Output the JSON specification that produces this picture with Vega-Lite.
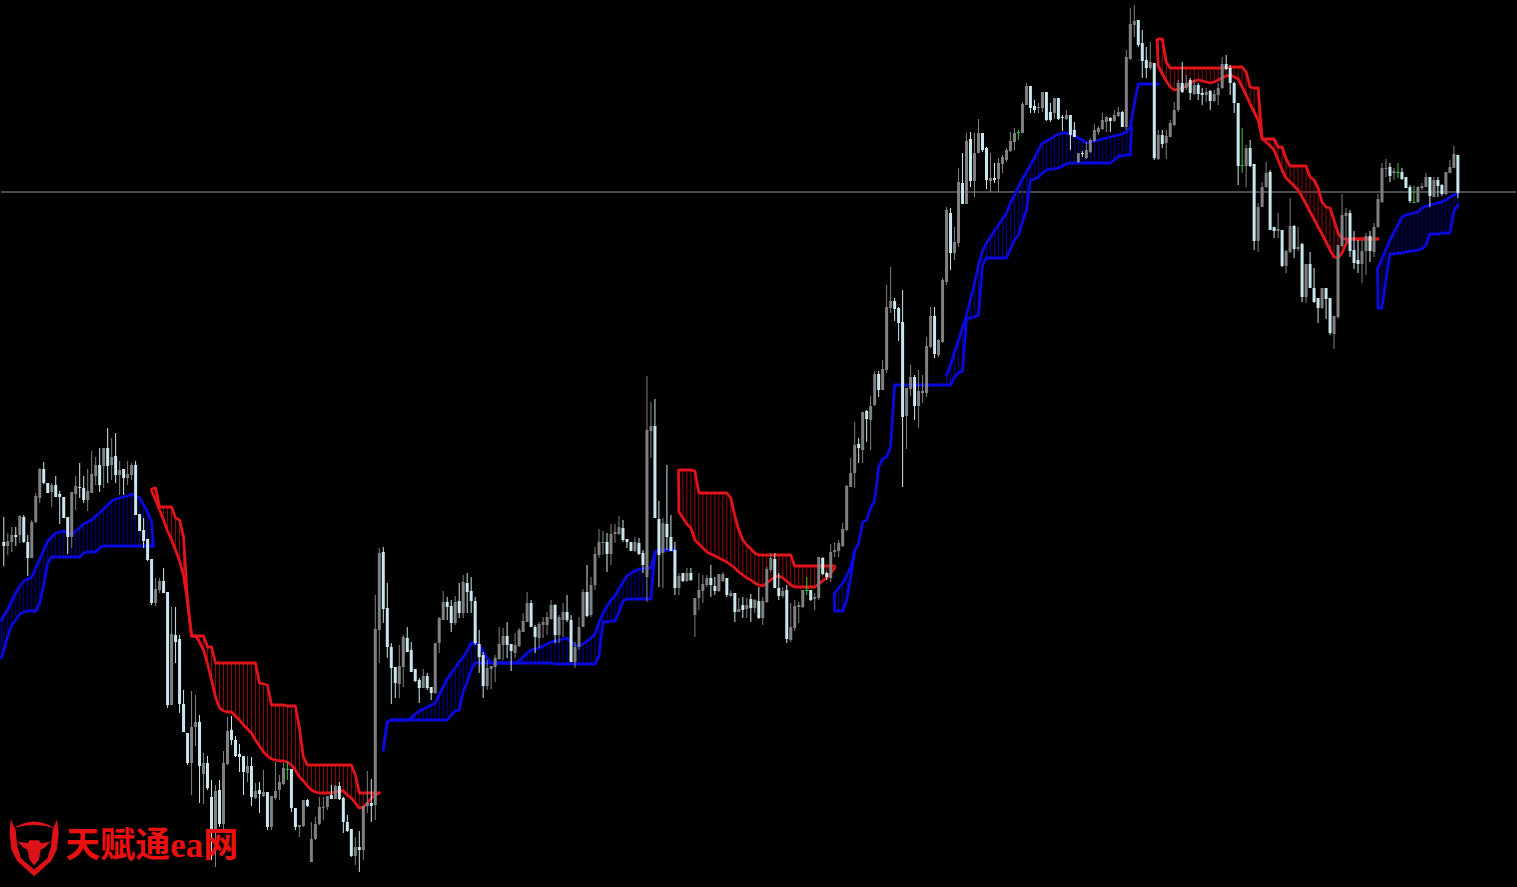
{"$schema":"https://vega.github.io/schema/vega-lite/v6.json","width":1517,"height":887,"padding":0,"autosize":{"type":"fit","contains":"padding"},"background":"#000000","view":{"stroke":null},
"datasets":{
"cloud":[
{"i":-0.575,"a":620,"b":658,"s":1,"c":"bull"},{"i":0,"a":616,"b":650,"s":1,"c":"bull"},{"i":1,"a":609,"b":636,"s":1,"c":"bull"},{"i":2,"a":601,"b":625,"s":1,"c":"bull"},{"i":3,"a":593,"b":620,"s":1,"c":"bull"},{"i":4,"a":586,"b":614,"s":1,"c":"bull"},{"i":5,"a":581,"b":612,"s":1,"c":"bull"},{"i":6,"a":579,"b":611,"s":1,"c":"bull"},{"i":7,"a":577,"b":611,"s":1,"c":"bull"},{"i":8,"a":568,"b":611,"s":1,"c":"bull"},{"i":9,"a":559,"b":603,"s":1,"c":"bull"},{"i":10,"a":550,"b":585,"s":1,"c":"bull"},{"i":11,"a":541,"b":563,"s":1,"c":"bull"},{"i":12,"a":537,"b":557,"s":1,"c":"bull"},{"i":13,"a":533,"b":557,"s":1,"c":"bull"},{"i":14,"a":532,"b":557,"s":1,"c":"bull"},{"i":15,"a":531,"b":557,"s":1,"c":"bull"},{"i":16,"a":533,"b":557,"s":1,"c":"bull"},{"i":17,"a":535,"b":557,"s":1,"c":"bull"},{"i":18,"a":531,"b":557,"s":1,"c":"bull"},{"i":19,"a":528,"b":557,"s":1,"c":"bull"},{"i":20,"a":524,"b":553,"s":1,"c":"bull"},{"i":21,"a":522,"b":552,"s":1,"c":"bull"},{"i":22,"a":520,"b":552,"s":1,"c":"bull"},{"i":23,"a":516,"b":552,"s":1,"c":"bull"},{"i":24,"a":513,"b":548,"s":1,"c":"bull"},{"i":25,"a":509,"b":546,"s":1,"c":"bull"},{"i":26,"a":505,"b":546,"s":1,"c":"bull"},{"i":27,"a":501,"b":546,"s":1,"c":"bull"},{"i":28,"a":499,"b":546,"s":1,"c":"bull"},{"i":29,"a":498,"b":546,"s":1,"c":"bull"},{"i":30,"a":497,"b":546,"s":1,"c":"bull"},{"i":31,"a":496,"b":546,"s":1,"c":"bull"},{"i":32,"a":494,"b":546,"s":1,"c":"bull"},{"i":33,"a":496,"b":546,"s":1,"c":"bull"},{"i":34,"a":498,"b":546,"s":1,"c":"bull"},{"i":35,"a":505,"b":546,"s":1,"c":"bull"},{"i":36,"a":512,"b":546,"s":1,"c":"bull"},{"i":37,"a":522,"b":546,"s":1,"c":"bull"},{"i":37.5,"a":546,"b":546,"s":1,"c":"bull"},
{"i":37,"a":489,"b":491,"s":2,"c":"bear"},{"i":38,"a":488,"b":500,"s":2,"c":"bear"},{"i":39,"a":507,"b":510,"s":2,"c":"bear"},{"i":40,"a":507,"b":520,"s":2,"c":"bear"},{"i":41,"a":507,"b":531,"s":2,"c":"bear"},{"i":42,"a":507,"b":540,"s":2,"c":"bear"},{"i":43,"a":518,"b":550,"s":2,"c":"bear"},{"i":44,"a":520,"b":561,"s":2,"c":"bear"},{"i":45,"a":537,"b":576,"s":2,"c":"bear"},{"i":46,"a":602,"b":602,"s":2,"c":"bear"},{"i":47,"a":636,"b":636,"s":2,"c":"bear"},{"i":48,"a":636,"b":636,"s":2,"c":"bear"},{"i":49,"a":636,"b":642,"s":2,"c":"bear"},{"i":50,"a":636,"b":650,"s":2,"c":"bear"},{"i":51,"a":647,"b":664,"s":2,"c":"bear"},{"i":52,"a":647,"b":680,"s":2,"c":"bear"},{"i":53,"a":663,"b":697,"s":2,"c":"bear"},{"i":54,"a":663,"b":708,"s":2,"c":"bear"},{"i":55,"a":663,"b":711,"s":2,"c":"bear"},{"i":56,"a":663,"b":712,"s":2,"c":"bear"},{"i":57,"a":663,"b":712,"s":2,"c":"bear"},{"i":58,"a":663,"b":716,"s":2,"c":"bear"},{"i":59,"a":663,"b":720,"s":2,"c":"bear"},{"i":60,"a":663,"b":725,"s":2,"c":"bear"},{"i":61,"a":663,"b":729,"s":2,"c":"bear"},{"i":62,"a":663,"b":733,"s":2,"c":"bear"},{"i":63,"a":663,"b":740,"s":2,"c":"bear"},{"i":64,"a":683,"b":746,"s":2,"c":"bear"},{"i":65,"a":684,"b":752,"s":2,"c":"bear"},{"i":66,"a":685,"b":756,"s":2,"c":"bear"},{"i":67,"a":705,"b":759,"s":2,"c":"bear"},{"i":68,"a":705,"b":760,"s":2,"c":"bear"},{"i":69,"a":705,"b":761,"s":2,"c":"bear"},{"i":70,"a":705,"b":761,"s":2,"c":"bear"},{"i":71,"a":706,"b":762,"s":2,"c":"bear"},{"i":72,"a":706,"b":765,"s":2,"c":"bear"},{"i":73,"a":706,"b":770,"s":2,"c":"bear"},{"i":74,"a":728,"b":777,"s":2,"c":"bear"},{"i":75,"a":757,"b":781,"s":2,"c":"bear"},{"i":76,"a":765,"b":786,"s":2,"c":"bear"},{"i":77,"a":765,"b":790,"s":2,"c":"bear"},{"i":78,"a":765,"b":792,"s":2,"c":"bear"},{"i":79,"a":765,"b":793,"s":2,"c":"bear"},{"i":80,"a":765,"b":793,"s":2,"c":"bear"},{"i":81,"a":765,"b":793,"s":2,"c":"bear"},{"i":82,"a":765,"b":793,"s":2,"c":"bear"},{"i":83,"a":765,"b":792,"s":2,"c":"bear"},{"i":84,"a":765,"b":791,"s":2,"c":"bear"},{"i":85,"a":765,"b":791,"s":2,"c":"bear"},{"i":86,"a":765,"b":795,"s":2,"c":"bear"},{"i":87,"a":765,"b":798,"s":2,"c":"bear"},{"i":88,"a":775,"b":803,"s":2,"c":"bear"},{"i":89,"a":793,"b":808,"s":2,"c":"bear"},{"i":90,"a":793,"b":807,"s":2,"c":"bear"},{"i":91,"a":793,"b":803,"s":2,"c":"bear"},{"i":92,"a":793,"b":798,"s":2,"c":"bear"},{"i":93,"a":793,"b":795,"s":2,"c":"bear"},{"i":94,"a":793,"b":793,"s":2,"c":"bear"},
{"i":95,"a":750,"b":750,"s":3,"c":"bull"},{"i":96,"a":722,"b":722,"s":3,"c":"bull"},{"i":97,"a":720,"b":720,"s":3,"c":"bull"},{"i":98,"a":720,"b":720,"s":3,"c":"bull"},{"i":99,"a":720,"b":720,"s":3,"c":"bull"},{"i":100,"a":720,"b":720,"s":3,"c":"bull"},{"i":101,"a":720,"b":720,"s":3,"c":"bull"},{"i":102,"a":718,"b":720,"s":3,"c":"bull"},{"i":103,"a":714,"b":720,"s":3,"c":"bull"},{"i":104,"a":711,"b":720,"s":3,"c":"bull"},{"i":105,"a":709,"b":720,"s":3,"c":"bull"},{"i":106,"a":707,"b":720,"s":3,"c":"bull"},{"i":107,"a":705,"b":720,"s":3,"c":"bull"},{"i":108,"a":703,"b":720,"s":3,"c":"bull"},{"i":109,"a":695,"b":720,"s":3,"c":"bull"},{"i":110,"a":687,"b":720,"s":3,"c":"bull"},{"i":111,"a":679,"b":720,"s":3,"c":"bull"},{"i":112,"a":673,"b":715,"s":3,"c":"bull"},{"i":113,"a":668,"b":711,"s":3,"c":"bull"},{"i":114,"a":662,"b":710,"s":3,"c":"bull"},{"i":115,"a":657,"b":692,"s":3,"c":"bull"},{"i":116,"a":651,"b":682,"s":3,"c":"bull"},{"i":117,"a":643,"b":670,"s":3,"c":"bull"},{"i":118,"a":643,"b":663,"s":3,"c":"bull"},{"i":119,"a":645,"b":663,"s":3,"c":"bull"},{"i":120,"a":652,"b":663,"s":3,"c":"bull"},{"i":121,"a":658,"b":663,"s":3,"c":"bull"},{"i":122,"a":663,"b":663,"s":3,"c":"bull"},{"i":123,"a":663,"b":663,"s":3,"c":"bull"},{"i":124,"a":663,"b":663,"s":3,"c":"bull"},{"i":125,"a":663,"b":663,"s":3,"c":"bull"},{"i":126,"a":663,"b":663,"s":3,"c":"bull"},{"i":127,"a":663,"b":663,"s":3,"c":"bull"},{"i":128,"a":663,"b":663,"s":3,"c":"bull"},{"i":129,"a":661,"b":663,"s":3,"c":"bull"},{"i":130,"a":657,"b":663,"s":3,"c":"bull"},{"i":131,"a":653,"b":663,"s":3,"c":"bull"},{"i":132,"a":650,"b":663,"s":3,"c":"bull"},{"i":133,"a":649,"b":663,"s":3,"c":"bull"},{"i":134,"a":648,"b":663,"s":3,"c":"bull"},{"i":135,"a":646,"b":663,"s":3,"c":"bull"},{"i":136,"a":644,"b":663,"s":3,"c":"bull"},{"i":137,"a":642,"b":663,"s":3,"c":"bull"},{"i":138,"a":641,"b":664,"s":3,"c":"bull"},{"i":139,"a":640,"b":664,"s":3,"c":"bull"},{"i":140,"a":639,"b":664,"s":3,"c":"bull"},{"i":141,"a":638,"b":664,"s":3,"c":"bull"},{"i":142,"a":642,"b":664,"s":3,"c":"bull"},{"i":143,"a":645,"b":664,"s":3,"c":"bull"},{"i":144,"a":646,"b":664,"s":3,"c":"bull"},{"i":145,"a":644,"b":664,"s":3,"c":"bull"},{"i":146,"a":641,"b":664,"s":3,"c":"bull"},{"i":147,"a":638,"b":664,"s":3,"c":"bull"},{"i":148,"a":634,"b":664,"s":3,"c":"bull"},{"i":149,"a":622,"b":656,"s":3,"c":"bull"},{"i":150,"a":613,"b":622,"s":3,"c":"bull"},{"i":151,"a":606,"b":622,"s":3,"c":"bull"},{"i":152,"a":600,"b":621,"s":3,"c":"bull"},{"i":153,"a":596,"b":621,"s":3,"c":"bull"},{"i":154,"a":589,"b":612,"s":3,"c":"bull"},{"i":155,"a":582,"b":601,"s":3,"c":"bull"},{"i":156,"a":576,"b":599,"s":3,"c":"bull"},{"i":157,"a":573,"b":599,"s":3,"c":"bull"},{"i":158,"a":571,"b":599,"s":3,"c":"bull"},{"i":159,"a":569,"b":599,"s":3,"c":"bull"},{"i":160,"a":569,"b":599,"s":3,"c":"bull"},{"i":161,"a":568,"b":599,"s":3,"c":"bull"},{"i":162,"a":568,"b":599,"s":3,"c":"bull"},{"i":163,"a":552,"b":552,"s":3,"c":"bull"},{"i":164,"a":550,"b":550,"s":3,"c":"bull"},{"i":165,"a":550,"b":550,"s":3,"c":"bull"},{"i":166,"a":550,"b":550,"s":3,"c":"bull"},{"i":167,"a":550,"b":550,"s":3,"c":"bull"},{"i":168,"a":550,"b":550,"s":3,"c":"bull"},
{"i":168.9,"a":471,"b":471,"s":4,"c":"bear"},{"i":169,"a":470,"b":512,"s":4,"c":"bear"},{"i":170,"a":470,"b":518,"s":4,"c":"bear"},{"i":171,"a":470,"b":524,"s":4,"c":"bear"},{"i":172,"a":470,"b":528,"s":4,"c":"bear"},{"i":173,"a":471,"b":540,"s":4,"c":"bear"},{"i":174,"a":493,"b":544,"s":4,"c":"bear"},{"i":175,"a":493,"b":548,"s":4,"c":"bear"},{"i":176,"a":493,"b":552,"s":4,"c":"bear"},{"i":177,"a":493,"b":554,"s":4,"c":"bear"},{"i":178,"a":493,"b":556,"s":4,"c":"bear"},{"i":179,"a":493,"b":558,"s":4,"c":"bear"},{"i":180,"a":493,"b":560,"s":4,"c":"bear"},{"i":181,"a":493,"b":562,"s":4,"c":"bear"},{"i":182,"a":498,"b":565,"s":4,"c":"bear"},{"i":183,"a":516,"b":568,"s":4,"c":"bear"},{"i":184,"a":530,"b":572,"s":4,"c":"bear"},{"i":185,"a":540,"b":575,"s":4,"c":"bear"},{"i":186,"a":545,"b":578,"s":4,"c":"bear"},{"i":187,"a":549,"b":580,"s":4,"c":"bear"},{"i":188,"a":553,"b":583,"s":4,"c":"bear"},{"i":189,"a":555,"b":585,"s":4,"c":"bear"},{"i":190,"a":555,"b":586,"s":4,"c":"bear"},{"i":191,"a":555,"b":583,"s":4,"c":"bear"},{"i":192,"a":555,"b":580,"s":4,"c":"bear"},{"i":193,"a":555,"b":577,"s":4,"c":"bear"},{"i":194,"a":555,"b":576,"s":4,"c":"bear"},{"i":195,"a":555,"b":578,"s":4,"c":"bear"},{"i":196,"a":555,"b":581,"s":4,"c":"bear"},{"i":197,"a":555,"b":585,"s":4,"c":"bear"},{"i":198,"a":566,"b":587,"s":4,"c":"bear"},{"i":199,"a":566,"b":587,"s":4,"c":"bear"},{"i":200,"a":566,"b":587,"s":4,"c":"bear"},{"i":201,"a":566,"b":587,"s":4,"c":"bear"},{"i":202,"a":566,"b":587,"s":4,"c":"bear"},{"i":203,"a":566,"b":587,"s":4,"c":"bear"},{"i":204,"a":566,"b":584,"s":4,"c":"bear"},{"i":205,"a":566,"b":581,"s":4,"c":"bear"},{"i":206,"a":566,"b":578,"s":4,"c":"bear"},{"i":207,"a":566,"b":573,"s":4,"c":"bear"},{"i":208,"a":566,"b":568,"s":4,"c":"bear"},
{"i":207.9,"a":595,"b":595,"s":5,"c":"bull"},{"i":208,"a":593,"b":611,"s":5,"c":"bull"},{"i":209,"a":588,"b":611,"s":5,"c":"bull"},{"i":210,"a":583,"b":611,"s":5,"c":"bull"},{"i":211,"a":576,"b":600,"s":5,"c":"bull"},{"i":212,"a":567,"b":578,"s":5,"c":"bull"},{"i":213,"a":551,"b":551,"s":5,"c":"bull"},{"i":214,"a":null,"b":543,"s":5,"c":"bull"},{"i":215,"a":null,"b":522,"s":5,"c":"bull"},{"i":216,"a":null,"b":520,"s":5,"c":"bull"},{"i":217,"a":null,"b":508,"s":5,"c":"bull"},{"i":218,"a":null,"b":501,"s":5,"c":"bull"},{"i":219,"a":null,"b":467,"s":5,"c":"bull"},{"i":220,"a":null,"b":459,"s":5,"c":"bull"},{"i":221,"a":null,"b":457,"s":5,"c":"bull"},{"i":222,"a":null,"b":447,"s":5,"c":"bull"},{"i":223,"a":null,"b":385,"s":5,"c":"bull"},{"i":224,"a":null,"b":385,"s":5,"c":"bull"},{"i":225,"a":null,"b":385,"s":5,"c":"bull"},{"i":226,"a":null,"b":385,"s":5,"c":"bull"},{"i":227,"a":null,"b":385,"s":5,"c":"bull"},{"i":228,"a":null,"b":385,"s":5,"c":"bull"},{"i":229,"a":null,"b":385,"s":5,"c":"bull"},{"i":230,"a":null,"b":385,"s":5,"c":"bull"},{"i":231,"a":null,"b":385,"s":5,"c":"bull"},{"i":232,"a":null,"b":385,"s":5,"c":"bull"},{"i":233,"a":null,"b":385,"s":5,"c":"bull"},{"i":234,"a":null,"b":385,"s":5,"c":"bull"},{"i":235,"a":null,"b":385,"s":5,"c":"bull"},{"i":236,"a":375,"b":385,"s":5,"c":"bull"},{"i":237,"a":365,"b":385,"s":5,"c":"bull"},{"i":238,"a":352,"b":377,"s":5,"c":"bull"},{"i":239,"a":340,"b":373,"s":5,"c":"bull"},{"i":240,"a":328,"b":371,"s":5,"c":"bull"},{"i":241,"a":315,"b":319,"s":5,"c":"bull"},{"i":242,"a":299,"b":318,"s":5,"c":"bull"},{"i":243,"a":283,"b":317,"s":5,"c":"bull"},{"i":244,"a":265,"b":315,"s":5,"c":"bull"},{"i":245,"a":251,"b":265,"s":5,"c":"bull"},{"i":246,"a":243,"b":258,"s":5,"c":"bull"},{"i":247,"a":237,"b":258,"s":5,"c":"bull"},{"i":248,"a":231,"b":258,"s":5,"c":"bull"},{"i":249,"a":225,"b":258,"s":5,"c":"bull"},{"i":250,"a":219,"b":258,"s":5,"c":"bull"},{"i":251,"a":213,"b":258,"s":5,"c":"bull"},{"i":252,"a":203,"b":249,"s":5,"c":"bull"},{"i":253,"a":195,"b":240,"s":5,"c":"bull"},{"i":254,"a":187,"b":235,"s":5,"c":"bull"},{"i":255,"a":179,"b":222,"s":5,"c":"bull"},{"i":256,"a":172,"b":210,"s":5,"c":"bull"},{"i":257,"a":165,"b":180,"s":5,"c":"bull"},{"i":258,"a":158,"b":179,"s":5,"c":"bull"},{"i":259,"a":150,"b":177,"s":5,"c":"bull"},{"i":260,"a":143,"b":173,"s":5,"c":"bull"},{"i":261,"a":141,"b":170,"s":5,"c":"bull"},{"i":262,"a":139,"b":169,"s":5,"c":"bull"},{"i":263,"a":136,"b":169,"s":5,"c":"bull"},{"i":264,"a":134,"b":168,"s":5,"c":"bull"},{"i":265,"a":133,"b":166,"s":5,"c":"bull"},{"i":266,"a":133,"b":164,"s":5,"c":"bull"},{"i":267,"a":134,"b":163,"s":5,"c":"bull"},{"i":268,"a":136,"b":163,"s":5,"c":"bull"},{"i":269,"a":138,"b":163,"s":5,"c":"bull"},{"i":270,"a":140,"b":163,"s":5,"c":"bull"},{"i":271,"a":143,"b":163,"s":5,"c":"bull"},{"i":272,"a":142,"b":163,"s":5,"c":"bull"},{"i":273,"a":141,"b":163,"s":5,"c":"bull"},{"i":274,"a":140,"b":163,"s":5,"c":"bull"},{"i":275,"a":139,"b":163,"s":5,"c":"bull"},{"i":276,"a":138,"b":163,"s":5,"c":"bull"},{"i":277,"a":137,"b":163,"s":5,"c":"bull"},{"i":278,"a":136,"b":160,"s":5,"c":"bull"},{"i":279,"a":135,"b":156,"s":5,"c":"bull"},{"i":280,"a":134,"b":156,"s":5,"c":"bull"},{"i":281,"a":132,"b":155,"s":5,"c":"bull"},{"i":282,"a":127,"b":155,"s":5,"c":"bull"},{"i":282.3,"a":120,"b":127,"s":5,"c":"bull"},{"i":283,"a":104,"b":null,"s":5,"c":"bull"},{"i":284,"a":84,"b":null,"s":5,"c":"bull"},{"i":285,"a":84,"b":null,"s":5,"c":"bull"},{"i":286,"a":84,"b":null,"s":5,"c":"bull"},{"i":287,"a":84,"b":null,"s":5,"c":"bull"},{"i":288,"a":84,"b":null,"s":5,"c":"bull"},{"i":289,"a":84,"b":null,"s":5,"c":"bull"},
{"i":288.7,"a":40,"b":40,"s":6,"c":"bear"},{"i":289,"a":39,"b":66,"s":6,"c":"bear"},{"i":290,"a":39,"b":74,"s":6,"c":"bear"},{"i":291,"a":62,"b":81,"s":6,"c":"bear"},{"i":292,"a":68,"b":87,"s":6,"c":"bear"},{"i":293,"a":68,"b":90,"s":6,"c":"bear"},{"i":294,"a":68,"b":89,"s":6,"c":"bear"},{"i":295,"a":68,"b":88,"s":6,"c":"bear"},{"i":296,"a":68,"b":86,"s":6,"c":"bear"},{"i":297,"a":68,"b":83,"s":6,"c":"bear"},{"i":298,"a":68,"b":81,"s":6,"c":"bear"},{"i":299,"a":68,"b":80,"s":6,"c":"bear"},{"i":300,"a":68,"b":81,"s":6,"c":"bear"},{"i":301,"a":68,"b":82,"s":6,"c":"bear"},{"i":302,"a":68,"b":83,"s":6,"c":"bear"},{"i":303,"a":68,"b":82,"s":6,"c":"bear"},{"i":304,"a":68,"b":80,"s":6,"c":"bear"},{"i":305,"a":68,"b":78,"s":6,"c":"bear"},{"i":306,"a":68,"b":76,"s":6,"c":"bear"},{"i":307,"a":67,"b":75,"s":6,"c":"bear"},{"i":308,"a":67,"b":77,"s":6,"c":"bear"},{"i":309,"a":67,"b":79,"s":6,"c":"bear"},{"i":310,"a":67,"b":87,"s":6,"c":"bear"},{"i":311,"a":72,"b":95,"s":6,"c":"bear"},{"i":312,"a":87,"b":104,"s":6,"c":"bear"},{"i":313,"a":88,"b":112,"s":6,"c":"bear"},{"i":314,"a":88,"b":120,"s":6,"c":"bear"},{"i":315,"a":139,"b":139,"s":6,"c":"bear"},{"i":316,"a":139,"b":142,"s":6,"c":"bear"},{"i":317,"a":139,"b":146,"s":6,"c":"bear"},{"i":318,"a":139,"b":150,"s":6,"c":"bear"},{"i":319,"a":147,"b":160,"s":6,"c":"bear"},{"i":320,"a":147,"b":170,"s":6,"c":"bear"},{"i":321,"a":159,"b":178,"s":6,"c":"bear"},{"i":322,"a":166,"b":182,"s":6,"c":"bear"},{"i":323,"a":166,"b":186,"s":6,"c":"bear"},{"i":324,"a":166,"b":190,"s":6,"c":"bear"},{"i":325,"a":166,"b":197,"s":6,"c":"bear"},{"i":326,"a":166,"b":204,"s":6,"c":"bear"},{"i":327,"a":177,"b":212,"s":6,"c":"bear"},{"i":328,"a":180,"b":219,"s":6,"c":"bear"},{"i":329,"a":188,"b":227,"s":6,"c":"bear"},{"i":330,"a":202,"b":234,"s":6,"c":"bear"},{"i":331,"a":207,"b":242,"s":6,"c":"bear"},{"i":332,"a":208,"b":250,"s":6,"c":"bear"},{"i":333,"a":220,"b":257,"s":6,"c":"bear"},{"i":334,"a":233,"b":258,"s":6,"c":"bear"},{"i":335,"a":239,"b":253,"s":6,"c":"bear"},{"i":336,"a":239,"b":244,"s":6,"c":"bear"},{"i":337,"a":239,"b":239,"s":6,"c":"bear"},{"i":338,"a":239,"b":239,"s":6,"c":"bear"},{"i":339,"a":239,"b":239,"s":6,"c":"bear"},{"i":340,"a":239,"b":239,"s":6,"c":"bear"},{"i":341,"a":239,"b":239,"s":6,"c":"bear"},{"i":342,"a":239,"b":239,"s":6,"c":"bear"},{"i":343,"a":239,"b":239,"s":6,"c":"bear"},{"i":344,"a":239,"b":239,"s":6,"c":"bear"},
{"i":343.9,"a":268,"b":268,"s":7,"c":"bull"},{"i":344,"a":268,"b":308,"s":7,"c":"bull"},{"i":345,"a":259,"b":308,"s":7,"c":"bull"},{"i":346,"a":249,"b":280,"s":7,"c":"bull"},{"i":347,"a":240,"b":254,"s":7,"c":"bull"},{"i":348,"a":232,"b":254,"s":7,"c":"bull"},{"i":349,"a":225,"b":253,"s":7,"c":"bull"},{"i":350,"a":217,"b":253,"s":7,"c":"bull"},{"i":351,"a":215,"b":252,"s":7,"c":"bull"},{"i":352,"a":214,"b":251,"s":7,"c":"bull"},{"i":353,"a":213,"b":251,"s":7,"c":"bull"},{"i":354,"a":212,"b":250,"s":7,"c":"bull"},{"i":355,"a":208,"b":249,"s":7,"c":"bull"},{"i":356,"a":206,"b":245,"s":7,"c":"bull"},{"i":357,"a":205,"b":234,"s":7,"c":"bull"},{"i":358,"a":204,"b":234,"s":7,"c":"bull"},{"i":359,"a":203,"b":234,"s":7,"c":"bull"},{"i":360,"a":202,"b":233,"s":7,"c":"bull"},{"i":361,"a":200,"b":233,"s":7,"c":"bull"},{"i":362,"a":197,"b":233,"s":7,"c":"bull"},{"i":363,"a":195,"b":211,"s":7,"c":"bull"},{"i":364,"a":193,"b":205,"s":7,"c":"bull"}
],
"bars":[
{"i":0,"d":"p","t":542,"b":546,"h":517,"l":566},{"i":1,"d":"g","t":541,"b":546,"h":533,"l":555},{"i":2,"d":"g","t":535,"b":542,"h":527,"l":552},{"i":3,"d":"p","t":535,"b":537,"h":527,"l":546},{"i":4,"d":"g","t":516,"b":535,"h":515,"l":543},{"i":5,"d":"p","t":517,"b":542,"h":515,"l":543},{"i":6,"d":"p","t":542,"b":558,"h":535,"l":576},{"i":7,"d":"g","t":522,"b":558,"h":520,"l":558},{"i":8,"d":"g","t":496,"b":522,"h":493,"l":523},{"i":9,"d":"g","t":469,"b":498,"h":468,"l":503},{"i":10,"d":"p","t":469,"b":483,"h":462,"l":484},{"i":11,"d":"p","t":483,"b":493,"h":483,"l":493},{"i":12,"d":"g","t":485,"b":492,"h":483,"l":507},{"i":13,"d":"p","t":485,"b":497,"h":476,"l":497},{"i":14,"d":"p","t":494,"b":497,"h":491,"l":524},{"i":15,"d":"p","t":497,"b":518,"h":497,"l":518},{"i":16,"d":"p","t":517,"b":537,"h":517,"l":554},{"i":17,"d":"g","t":492,"b":537,"h":492,"l":548},{"i":18,"d":"g","t":486,"b":494,"h":476,"l":510},{"i":19,"d":"p","t":487,"b":488,"h":463,"l":498},{"i":20,"d":"p","t":488,"b":500,"h":476,"l":503},{"i":21,"d":"g","t":491,"b":500,"h":469,"l":511},{"i":22,"d":"g","t":474,"b":493,"h":451,"l":493},{"i":23,"d":"g","t":465,"b":476,"h":457,"l":485},{"i":24,"d":"p","t":465,"b":485,"h":448,"l":492},{"i":25,"d":"g","t":448,"b":466,"h":448,"l":488},{"i":26,"d":"p","t":448,"b":466,"h":428,"l":483},{"i":27,"d":"g","t":457,"b":465,"h":438,"l":480},{"i":28,"d":"p","t":456,"b":475,"h":433,"l":483},{"i":29,"d":"g","t":470,"b":475,"h":461,"l":495},{"i":30,"d":"p","t":469,"b":478,"h":469,"l":495},{"i":31,"d":"g","t":474,"b":478,"h":461,"l":485},{"i":32,"d":"g","t":465,"b":475,"h":463,"l":480},{"i":33,"d":"p","t":465,"b":515,"h":461,"l":515},{"i":34,"d":"p","t":514,"b":531,"h":514,"l":531},{"i":35,"d":"p","t":530,"b":541,"h":518,"l":548},{"i":36,"d":"p","t":539,"b":560,"h":539,"l":561},{"i":37,"d":"p","t":559,"b":603,"h":559,"l":605},{"i":38,"d":"g","t":589,"b":603,"h":578,"l":606},{"i":39,"d":"g","t":581,"b":590,"h":578,"l":593},{"i":40,"d":"p","t":581,"b":593,"h":568,"l":593},{"i":41,"d":"p","t":592,"b":705,"h":592,"l":708},{"i":42,"d":"g","t":634,"b":705,"h":607,"l":705},{"i":43,"d":"p","t":635,"b":642,"h":607,"l":663},{"i":44,"d":"p","t":639,"b":704,"h":635,"l":713},{"i":45,"d":"p","t":704,"b":732,"h":690,"l":732},{"i":46,"d":"p","t":733,"b":763,"h":733,"l":765},{"i":47,"d":"g","t":727,"b":763,"h":691,"l":795},{"i":48,"d":"g","t":722,"b":727,"h":695,"l":746},{"i":49,"d":"p","t":722,"b":766,"h":715,"l":803},{"i":50,"d":"g","t":763,"b":774,"h":753,"l":804},{"i":51,"d":"p","t":763,"b":788,"h":756,"l":790},{"i":52,"d":"p","t":797,"b":830,"h":780,"l":860},{"i":53,"d":"g","t":791,"b":830,"h":785,"l":867},{"i":54,"d":"p","t":790,"b":824,"h":780,"l":827},{"i":55,"d":"g","t":763,"b":824,"h":751,"l":832},{"i":56,"d":"g","t":731,"b":764,"h":717,"l":765},{"i":57,"d":"p","t":730,"b":740,"h":716,"l":745},{"i":58,"d":"p","t":740,"b":756,"h":736,"l":757},{"i":59,"d":"p","t":754,"b":757,"h":744,"l":772},{"i":60,"d":"p","t":756,"b":772,"h":756,"l":795},{"i":61,"d":"g","t":766,"b":773,"h":756,"l":782},{"i":62,"d":"p","t":766,"b":797,"h":757,"l":806},{"i":63,"d":"g","t":791,"b":798,"h":783,"l":799},{"i":64,"d":"p","t":790,"b":794,"h":782,"l":813},{"i":65,"d":"g","t":792,"b":796,"h":770,"l":797},{"i":66,"d":"p","t":792,"b":827,"h":792,"l":830},{"i":67,"d":"g","t":796,"b":827,"h":796,"l":830},{"i":68,"d":"g","t":791,"b":798,"h":762,"l":800},{"i":69,"d":"g","t":782,"b":790,"h":775,"l":800},{"i":70,"d":"g","t":768,"b":784,"h":763,"l":785},{"i":71,"d":"n","t":769,"b":770,"h":762,"l":780},{"i":72,"d":"p","t":769,"b":808,"h":769,"l":812},{"i":73,"d":"p","t":808,"b":827,"h":808,"l":830},{"i":74,"d":"g","t":825,"b":827,"h":825,"l":837},{"i":75,"d":"g","t":800,"b":826,"h":800,"l":827},{"i":76,"d":"p","t":800,"b":806,"h":799,"l":807},{"i":77,"d":"g","t":839,"b":862,"h":822,"l":862},{"i":78,"d":"g","t":824,"b":839,"h":817,"l":840},{"i":79,"d":"g","t":807,"b":824,"h":797,"l":825},{"i":80,"d":"g","t":807,"b":808,"h":797,"l":820},{"i":81,"d":"g","t":796,"b":807,"h":796,"l":810},{"i":82,"d":"p","t":795,"b":799,"h":785,"l":799},{"i":83,"d":"g","t":786,"b":799,"h":785,"l":799},{"i":84,"d":"p","t":786,"b":799,"h":782,"l":800},{"i":85,"d":"p","t":798,"b":822,"h":797,"l":833},{"i":86,"d":"p","t":822,"b":831,"h":815,"l":832},{"i":87,"d":"p","t":829,"b":856,"h":829,"l":857},{"i":88,"d":"g","t":847,"b":856,"h":837,"l":865},{"i":89,"d":"p","t":847,"b":850,"h":831,"l":872},{"i":90,"d":"g","t":806,"b":850,"h":806,"l":860},{"i":91,"d":"g","t":803,"b":806,"h":771,"l":813},{"i":92,"d":"p","t":803,"b":806,"h":779,"l":822},{"i":93,"d":"g","t":629,"b":805,"h":595,"l":820},{"i":94,"d":"g","t":553,"b":630,"h":548,"l":663},{"i":95,"d":"p","t":552,"b":609,"h":547,"l":623},{"i":96,"d":"p","t":608,"b":647,"h":583,"l":658},{"i":97,"d":"p","t":647,"b":668,"h":643,"l":704},{"i":98,"d":"p","t":667,"b":683,"h":667,"l":698},{"i":99,"d":"g","t":666,"b":684,"h":645,"l":698},{"i":100,"d":"g","t":637,"b":667,"h":635,"l":687},{"i":101,"d":"p","t":638,"b":652,"h":627,"l":652},{"i":102,"d":"p","t":650,"b":672,"h":642,"l":672},{"i":103,"d":"p","t":669,"b":681,"h":669,"l":682},{"i":104,"d":"p","t":680,"b":688,"h":678,"l":703},{"i":105,"d":"g","t":676,"b":688,"h":669,"l":688},{"i":106,"d":"p","t":676,"b":688,"h":673,"l":690},{"i":107,"d":"p","t":687,"b":693,"h":687,"l":700},{"i":108,"d":"g","t":643,"b":693,"h":643,"l":694},{"i":109,"d":"g","t":618,"b":643,"h":617,"l":653},{"i":110,"d":"g","t":602,"b":620,"h":591,"l":620},{"i":111,"d":"p","t":602,"b":607,"h":597,"l":620},{"i":112,"d":"p","t":606,"b":623,"h":600,"l":632},{"i":113,"d":"g","t":602,"b":623,"h":596,"l":625},{"i":114,"d":"p","t":601,"b":613,"h":583,"l":618},{"i":115,"d":"g","t":582,"b":613,"h":575,"l":618},{"i":116,"d":"p","t":583,"b":592,"h":573,"l":613},{"i":117,"d":"p","t":591,"b":601,"h":577,"l":613},{"i":118,"d":"p","t":601,"b":643,"h":597,"l":645},{"i":119,"d":"p","t":644,"b":657,"h":630,"l":673},{"i":120,"d":"p","t":655,"b":686,"h":652,"l":698},{"i":121,"d":"g","t":668,"b":686,"h":660,"l":690},{"i":122,"d":"g","t":666,"b":669,"h":666,"l":689},{"i":123,"d":"g","t":658,"b":667,"h":655,"l":682},{"i":124,"d":"g","t":644,"b":659,"h":627,"l":660},{"i":125,"d":"g","t":636,"b":645,"h":628,"l":660},{"i":126,"d":"p","t":636,"b":645,"h":622,"l":658},{"i":127,"d":"p","t":644,"b":651,"h":644,"l":671},{"i":128,"d":"g","t":645,"b":653,"h":633,"l":658},{"i":129,"d":"g","t":630,"b":646,"h":628,"l":647},{"i":130,"d":"g","t":621,"b":632,"h":613,"l":632},{"i":131,"d":"g","t":603,"b":622,"h":592,"l":622},{"i":132,"d":"p","t":603,"b":627,"h":600,"l":627},{"i":133,"d":"p","t":627,"b":637,"h":625,"l":653},{"i":134,"d":"g","t":624,"b":638,"h":622,"l":648},{"i":135,"d":"g","t":622,"b":625,"h":617,"l":638},{"i":136,"d":"g","t":617,"b":625,"h":612,"l":635},{"i":137,"d":"g","t":605,"b":619,"h":600,"l":620},{"i":138,"d":"p","t":605,"b":635,"h":604,"l":643},{"i":139,"d":"g","t":617,"b":635,"h":615,"l":643},{"i":140,"d":"g","t":612,"b":620,"h":603,"l":637},{"i":141,"d":"p","t":612,"b":620,"h":595,"l":622},{"i":142,"d":"p","t":620,"b":662,"h":615,"l":662},{"i":143,"d":"g","t":647,"b":662,"h":642,"l":668},{"i":144,"d":"g","t":627,"b":647,"h":617,"l":650},{"i":145,"d":"g","t":592,"b":627,"h":589,"l":627},{"i":146,"d":"p","t":592,"b":616,"h":565,"l":617},{"i":147,"d":"g","t":585,"b":615,"h":577,"l":617},{"i":148,"d":"g","t":554,"b":585,"h":547,"l":590},{"i":149,"d":"g","t":542,"b":555,"h":529,"l":558},{"i":150,"d":"g","t":542,"b":543,"h":531,"l":555},{"i":151,"d":"p","t":542,"b":554,"h":533,"l":572},{"i":152,"d":"g","t":534,"b":554,"h":524,"l":565},{"i":153,"d":"g","t":532,"b":534,"h":524,"l":543},{"i":154,"d":"g","t":527,"b":534,"h":516,"l":535},{"i":155,"d":"p","t":528,"b":540,"h":520,"l":542},{"i":156,"d":"p","t":539,"b":542,"h":539,"l":548},{"i":157,"d":"p","t":542,"b":551,"h":542,"l":551},{"i":158,"d":"g","t":542,"b":551,"h":537,"l":552},{"i":159,"d":"p","t":543,"b":554,"h":538,"l":555},{"i":160,"d":"p","t":553,"b":565,"h":550,"l":573},{"i":161,"d":"g","t":430,"b":577,"h":376,"l":602},{"i":162,"d":"g","t":426,"b":431,"h":402,"l":458},{"i":163,"d":"p","t":426,"b":518,"h":399,"l":518},{"i":164,"d":"p","t":519,"b":555,"h":501,"l":587},{"i":165,"d":"g","t":523,"b":553,"h":518,"l":588},{"i":166,"d":"p","t":524,"b":537,"h":465,"l":550},{"i":167,"d":"p","t":537,"b":551,"h":515,"l":551},{"i":168,"d":"p","t":550,"b":588,"h":542,"l":595},{"i":169,"d":"g","t":576,"b":588,"h":573,"l":595},{"i":170,"d":"p","t":573,"b":581,"h":573,"l":582},{"i":171,"d":"g","t":573,"b":581,"h":568,"l":582},{"i":172,"d":"p","t":573,"b":580,"h":568,"l":581},{"i":173,"d":"g","t":598,"b":615,"h":598,"l":637},{"i":174,"d":"g","t":590,"b":598,"h":573,"l":610},{"i":175,"d":"g","t":584,"b":591,"h":575,"l":603},{"i":176,"d":"g","t":578,"b":585,"h":575,"l":587},{"i":177,"d":"p","t":578,"b":585,"h":565,"l":597},{"i":178,"d":"p","t":586,"b":591,"h":577,"l":595},{"i":179,"d":"g","t":574,"b":591,"h":574,"l":592},{"i":180,"d":"g","t":574,"b":581,"h":572,"l":582},{"i":181,"d":"p","t":578,"b":595,"h":578,"l":597},{"i":182,"d":"g","t":593,"b":596,"h":590,"l":597},{"i":183,"d":"p","t":593,"b":612,"h":593,"l":622},{"i":184,"d":"g","t":609,"b":612,"h":598,"l":612},{"i":185,"d":"p","t":605,"b":610,"h":597,"l":618},{"i":186,"d":"g","t":605,"b":609,"h":598,"l":618},{"i":187,"d":"p","t":599,"b":608,"h":594,"l":622},{"i":188,"d":"g","t":600,"b":608,"h":599,"l":613},{"i":189,"d":"p","t":601,"b":618,"h":587,"l":619},{"i":190,"d":"g","t":601,"b":618,"h":597,"l":625},{"i":191,"d":"g","t":569,"b":602,"h":567,"l":603},{"i":192,"d":"g","t":558,"b":570,"h":553,"l":572},{"i":193,"d":"p","t":559,"b":588,"h":553,"l":588},{"i":194,"d":"p","t":588,"b":596,"h":573,"l":600},{"i":195,"d":"g","t":591,"b":596,"h":587,"l":598},{"i":196,"d":"p","t":590,"b":639,"h":585,"l":643},{"i":197,"d":"g","t":627,"b":640,"h":603,"l":642},{"i":198,"d":"g","t":606,"b":628,"h":600,"l":631},{"i":199,"d":"g","t":605,"b":607,"h":602,"l":623},{"i":200,"d":"g","t":590,"b":607,"h":590,"l":608},{"i":201,"d":"n","t":590,"b":591,"h":577,"l":595},{"i":202,"d":"p","t":590,"b":600,"h":590,"l":601},{"i":203,"d":"g","t":597,"b":599,"h":593,"l":610},{"i":204,"d":"g","t":557,"b":598,"h":557,"l":600},{"i":205,"d":"p","t":558,"b":574,"h":557,"l":575},{"i":206,"d":"p","t":573,"b":577,"h":572,"l":580},{"i":207,"d":"g","t":552,"b":578,"h":544,"l":582},{"i":208,"d":"g","t":550,"b":552,"h":542,"l":557},{"i":209,"d":"g","t":543,"b":551,"h":540,"l":557},{"i":210,"d":"g","t":529,"b":546,"h":523,"l":547},{"i":211,"d":"g","t":486,"b":530,"h":485,"l":531},{"i":212,"d":"g","t":473,"b":487,"h":458,"l":487},{"i":213,"d":"g","t":445,"b":473,"h":422,"l":488},{"i":214,"d":"p","t":444,"b":448,"h":438,"l":463},{"i":215,"d":"g","t":412,"b":450,"h":412,"l":463},{"i":216,"d":"p","t":411,"b":419,"h":410,"l":442},{"i":217,"d":"g","t":406,"b":420,"h":396,"l":450},{"i":218,"d":"g","t":374,"b":405,"h":371,"l":406},{"i":219,"d":"p","t":374,"b":390,"h":371,"l":397},{"i":220,"d":"g","t":369,"b":390,"h":360,"l":390},{"i":221,"d":"g","t":307,"b":370,"h":285,"l":373},{"i":222,"d":"g","t":301,"b":308,"h":267,"l":313},{"i":223,"d":"p","t":301,"b":309,"h":298,"l":321},{"i":224,"d":"p","t":308,"b":323,"h":307,"l":341},{"i":225,"d":"p","t":322,"b":417,"h":290,"l":487},{"i":226,"d":"g","t":388,"b":416,"h":388,"l":449},{"i":227,"d":"g","t":377,"b":389,"h":365,"l":396},{"i":228,"d":"p","t":377,"b":406,"h":375,"l":420},{"i":229,"d":"g","t":391,"b":406,"h":370,"l":428},{"i":230,"d":"g","t":391,"b":393,"h":375,"l":403},{"i":231,"d":"g","t":346,"b":393,"h":337,"l":397},{"i":232,"d":"g","t":316,"b":347,"h":307,"l":348},{"i":233,"d":"p","t":316,"b":354,"h":307,"l":358},{"i":234,"d":"g","t":340,"b":355,"h":339,"l":357},{"i":235,"d":"g","t":280,"b":342,"h":278,"l":343},{"i":236,"d":"g","t":210,"b":282,"h":207,"l":285},{"i":237,"d":"p","t":213,"b":253,"h":208,"l":270},{"i":238,"d":"g","t":242,"b":253,"h":227,"l":260},{"i":239,"d":"g","t":182,"b":243,"h":168,"l":247},{"i":240,"d":"p","t":183,"b":204,"h":153,"l":204},{"i":241,"d":"g","t":141,"b":204,"h":133,"l":204},{"i":242,"d":"p","t":139,"b":181,"h":132,"l":187},{"i":243,"d":"g","t":153,"b":181,"h":133,"l":197},{"i":244,"d":"g","t":133,"b":153,"h":119,"l":153},{"i":245,"d":"p","t":133,"b":150,"h":133,"l":152},{"i":246,"d":"p","t":148,"b":180,"h":147,"l":189},{"i":247,"d":"g","t":178,"b":181,"h":153,"l":192},{"i":248,"d":"p","t":178,"b":180,"h":163,"l":183},{"i":249,"d":"g","t":163,"b":179,"h":158,"l":192},{"i":250,"d":"g","t":157,"b":164,"h":155,"l":173},{"i":251,"d":"g","t":150,"b":160,"h":148,"l":162},{"i":252,"d":"g","t":141,"b":151,"h":132,"l":152},{"i":253,"d":"g","t":133,"b":142,"h":128,"l":150},{"i":254,"d":"n","t":132,"b":133,"h":130,"l":140},{"i":255,"d":"g","t":104,"b":133,"h":102,"l":133},{"i":256,"d":"g","t":86,"b":105,"h":83,"l":105},{"i":257,"d":"p","t":86,"b":108,"h":86,"l":113},{"i":258,"d":"p","t":106,"b":110,"h":100,"l":113},{"i":259,"d":"g","t":107,"b":108,"h":103,"l":113},{"i":260,"d":"g","t":92,"b":108,"h":92,"l":112},{"i":261,"d":"p","t":92,"b":120,"h":92,"l":121},{"i":262,"d":"p","t":112,"b":120,"h":103,"l":122},{"i":263,"d":"g","t":98,"b":113,"h":98,"l":119},{"i":264,"d":"p","t":98,"b":119,"h":98,"l":120},{"i":265,"d":"p","t":117,"b":118,"h":115,"l":131},{"i":266,"d":"g","t":115,"b":119,"h":110,"l":120},{"i":267,"d":"p","t":115,"b":135,"h":115,"l":150},{"i":268,"d":"p","t":130,"b":137,"h":122,"l":137},{"i":269,"d":"g","t":153,"b":162,"h":153,"l":163},{"i":270,"d":"p","t":153,"b":154,"h":151,"l":157},{"i":271,"d":"g","t":150,"b":158,"h":142,"l":159},{"i":272,"d":"g","t":140,"b":152,"h":138,"l":153},{"i":273,"d":"g","t":130,"b":141,"h":124,"l":142},{"i":274,"d":"g","t":128,"b":132,"h":126,"l":135},{"i":275,"d":"g","t":120,"b":129,"h":113,"l":130},{"i":276,"d":"g","t":117,"b":122,"h":116,"l":132},{"i":277,"d":"p","t":118,"b":121,"h":117,"l":132},{"i":278,"d":"g","t":115,"b":121,"h":110,"l":122},{"i":279,"d":"g","t":112,"b":116,"h":107,"l":117},{"i":280,"d":"p","t":112,"b":127,"h":111,"l":127},{"i":281,"d":"g","t":57,"b":127,"h":50,"l":130},{"i":282,"d":"g","t":24,"b":59,"h":8,"l":60},{"i":283,"d":"g","t":21,"b":25,"h":5,"l":37},{"i":284,"d":"p","t":20,"b":45,"h":20,"l":47},{"i":285,"d":"p","t":43,"b":61,"h":30,"l":78},{"i":286,"d":"p","t":60,"b":68,"h":47,"l":78},{"i":287,"d":"g","t":62,"b":68,"h":42,"l":70},{"i":288,"d":"p","t":63,"b":158,"h":63,"l":160},{"i":289,"d":"g","t":135,"b":159,"h":130,"l":160},{"i":290,"d":"p","t":135,"b":144,"h":130,"l":148},{"i":291,"d":"g","t":136,"b":143,"h":130,"l":159},{"i":292,"d":"g","t":123,"b":137,"h":120,"l":137},{"i":293,"d":"g","t":110,"b":125,"h":102,"l":126},{"i":294,"d":"g","t":83,"b":110,"h":80,"l":112},{"i":295,"d":"p","t":83,"b":92,"h":62,"l":93},{"i":296,"d":"g","t":83,"b":88,"h":75,"l":90},{"i":297,"d":"p","t":80,"b":93,"h":78,"l":100},{"i":298,"d":"g","t":85,"b":94,"h":80,"l":95},{"i":299,"d":"p","t":85,"b":94,"h":83,"l":100},{"i":300,"d":"p","t":93,"b":95,"h":88,"l":105},{"i":301,"d":"g","t":92,"b":95,"h":88,"l":102},{"i":302,"d":"p","t":91,"b":101,"h":90,"l":110},{"i":303,"d":"g","t":94,"b":101,"h":90,"l":102},{"i":304,"d":"g","t":88,"b":95,"h":83,"l":105},{"i":305,"d":"g","t":64,"b":88,"h":57,"l":89},{"i":306,"d":"p","t":64,"b":69,"h":55,"l":70},{"i":307,"d":"p","t":68,"b":83,"h":65,"l":95},{"i":308,"d":"p","t":83,"b":103,"h":82,"l":113},{"i":309,"d":"p","t":103,"b":166,"h":103,"l":185},{"i":310,"d":"n","t":165,"b":166,"h":128,"l":173},{"i":311,"d":"g","t":148,"b":166,"h":145,"l":187},{"i":312,"d":"p","t":148,"b":166,"h":140,"l":167},{"i":313,"d":"p","t":164,"b":241,"h":164,"l":250},{"i":314,"d":"g","t":207,"b":241,"h":203,"l":252},{"i":315,"d":"g","t":187,"b":207,"h":182,"l":207},{"i":316,"d":"g","t":173,"b":187,"h":162,"l":188},{"i":317,"d":"p","t":172,"b":230,"h":170,"l":230},{"i":318,"d":"p","t":227,"b":231,"h":227,"l":238},{"i":319,"d":"g","t":229,"b":231,"h":213,"l":238},{"i":320,"d":"p","t":230,"b":266,"h":230,"l":267},{"i":321,"d":"g","t":251,"b":266,"h":250,"l":273},{"i":322,"d":"g","t":226,"b":252,"h":198,"l":253},{"i":323,"d":"p","t":226,"b":249,"h":225,"l":258},{"i":324,"d":"g","t":247,"b":249,"h":227,"l":251},{"i":325,"d":"p","t":244,"b":297,"h":243,"l":302},{"i":326,"d":"g","t":264,"b":297,"h":264,"l":303},{"i":327,"d":"p","t":264,"b":288,"h":252,"l":288},{"i":328,"d":"p","t":288,"b":302,"h":268,"l":303},{"i":329,"d":"p","t":298,"b":308,"h":298,"l":323},{"i":330,"d":"g","t":288,"b":308,"h":288,"l":309},{"i":331,"d":"p","t":288,"b":299,"h":288,"l":319},{"i":332,"d":"p","t":298,"b":333,"h":298,"l":335},{"i":333,"d":"g","t":316,"b":334,"h":316,"l":349},{"i":334,"d":"g","t":245,"b":317,"h":245,"l":319},{"i":335,"d":"g","t":215,"b":246,"h":194,"l":247},{"i":336,"d":"g","t":213,"b":216,"h":208,"l":242},{"i":337,"d":"p","t":213,"b":251,"h":210,"l":257},{"i":338,"d":"p","t":250,"b":263,"h":231,"l":269},{"i":339,"d":"p","t":260,"b":264,"h":240,"l":273},{"i":340,"d":"g","t":251,"b":264,"h":240,"l":283},{"i":341,"d":"g","t":236,"b":251,"h":233,"l":275},{"i":342,"d":"p","t":236,"b":251,"h":231,"l":262},{"i":343,"d":"g","t":227,"b":252,"h":223,"l":257},{"i":344,"d":"g","t":199,"b":227,"h":194,"l":228},{"i":345,"d":"g","t":168,"b":202,"h":163,"l":203},{"i":346,"d":"g","t":168,"b":169,"h":159,"l":177},{"i":347,"d":"p","t":167,"b":176,"h":163,"l":182},{"i":348,"d":"g","t":171,"b":173,"h":168,"l":180},{"i":349,"d":"n","t":172,"b":173,"h":163,"l":178},{"i":350,"d":"p","t":172,"b":179,"h":168,"l":180},{"i":351,"d":"p","t":177,"b":188,"h":177,"l":188},{"i":352,"d":"p","t":187,"b":201,"h":185,"l":203},{"i":353,"d":"n","t":202,"b":203,"h":186,"l":203},{"i":354,"d":"g","t":187,"b":202,"h":186,"l":203},{"i":355,"d":"g","t":186,"b":188,"h":183,"l":190},{"i":356,"d":"g","t":177,"b":187,"h":173,"l":187},{"i":357,"d":"p","t":177,"b":196,"h":177,"l":207},{"i":358,"d":"g","t":180,"b":197,"h":177,"l":197},{"i":359,"d":"p","t":180,"b":186,"h":177,"l":197},{"i":360,"d":"p","t":185,"b":194,"h":184,"l":196},{"i":361,"d":"g","t":172,"b":194,"h":172,"l":195},{"i":362,"d":"g","t":167,"b":173,"h":160,"l":173},{"i":363,"d":"g","t":154,"b":168,"h":146,"l":168},{"i":364,"d":"p","t":155,"b":193,"h":155,"l":198}
]},
"layer":[
{"data":{"values":[{"level":192}]},"mark":{"type":"rule","color":"#8e959c","strokeWidth":1},"encoding":{"y":{"field":"level","type":"quantitative","scale":{"domain":[887,0],"nice":false,"zero":false},"axis":null}}},
{"data":{"name":"cloud"},"transform":[{"filter":"datum.a!=null && datum.b!=null && datum.a!=datum.b"}],"mark":{"type":"rule","strokeWidth":1},"encoding":{"x":{"field":"i","type":"quantitative","scale":{"domain":[-0.7,378.55],"nice":false,"zero":false},"axis":null},"y":{"field":"a","type":"quantitative","scale":{"domain":[887,0],"nice":false,"zero":false},"axis":null},"y2":{"field":"b"},"color":{"field":"c","type":"nominal","scale":{"domain":["bull","bear"],"range":["#00009a","#8e0a0a"]},"legend":null}}},
{"data":{"name":"cloud"},"mark":{"type":"line","strokeWidth":2.8,"strokeJoin":"round","strokeCap":"round"},"encoding":{"x":{"field":"i","type":"quantitative","scale":{"domain":[-0.7,378.55],"nice":false,"zero":false},"axis":null},"y":{"field":"a","type":"quantitative","scale":{"domain":[887,0],"nice":false,"zero":false},"axis":null},"detail":{"field":"s"},"color":{"field":"c","type":"nominal","scale":{"domain":["bull","bear"],"range":["#0a0ae0","#e0141a"]},"legend":null}}},
{"data":{"name":"cloud"},"mark":{"type":"line","strokeWidth":2.8,"strokeJoin":"round","strokeCap":"round"},"encoding":{"x":{"field":"i","type":"quantitative","scale":{"domain":[-0.7,378.55],"nice":false,"zero":false},"axis":null},"y":{"field":"b","type":"quantitative","scale":{"domain":[887,0],"nice":false,"zero":false},"axis":null},"detail":{"field":"s"},"color":{"field":"c","type":"nominal","scale":{"domain":["bull","bear"],"range":["#0a0ae0","#e0141a"]},"legend":null}}},
{"data":{"name":"bars"},"mark":{"type":"rule","strokeWidth":1},"encoding":{"x":{"field":"i","type":"quantitative","scale":{"domain":[-0.7,378.55],"nice":false,"zero":false},"axis":null},"y":{"field":"h","type":"quantitative","scale":{"domain":[887,0],"nice":false,"zero":false},"axis":null},"y2":{"field":"l"},"color":{"field":"d","type":"nominal","scale":{"domain":["g","p","n"],"range":["#808080","#c9e7ec","#2fc62f"]},"legend":null}}},
{"data":{"name":"bars"},"mark":{"type":"rule","strokeWidth":3},"encoding":{"x":{"field":"i","type":"quantitative","scale":{"domain":[-0.7,378.55],"nice":false,"zero":false},"axis":null},"y":{"field":"t","type":"quantitative","scale":{"domain":[887,0],"nice":false,"zero":false},"axis":null},"y2":{"field":"b"},"color":{"field":"d","type":"nominal","scale":{"domain":["g","p","n"],"range":["#808080","#c9e7ec","#2fc62f"]},"legend":null}}},
{"data":{"values":[{"i":7.6,"v":848}]},"mark":{"type":"point","filled":true,"size":14400,"opacity":1,"color":"#dc1218","shape":"M-.39 -.48 L-.41 -.25 L-.38 .03 L-.28 .22 L0 .47 L.28 .22 L.38 .03 L.41 -.25 L.38 -.48 L.31 -.31 L.28 -.03 L.22 .17 L0 .36 L-.22 .17 L-.28 -.03 L-.31 -.31 Z M-.34 -.33 Q0 -.55 .34 -.33 Q0 -.44 -.34 -.33 Z M-.28 -.11 L-.11 -.08 L-.08 -.13 L.08 -.13 L.11 -.08 L.28 -.11 L.17 0 L.11 .03 L.08 .19 L0 .29 L-.08 .19 L-.11 .03 L-.17 0 Z"},"encoding":{"x":{"field":"i","type":"quantitative","scale":{"domain":[-0.7,378.55],"nice":false,"zero":false},"axis":null},"y":{"field":"v","type":"quantitative","scale":{"domain":[887,0],"nice":false,"zero":false},"axis":null}}},
{"data":{"values":[{"i":15.4,"v":846,"label":"天赋通ea网"}]},"mark":{"type":"text","align":"left","baseline":"middle","font":"Liberation Serif, Noto Sans CJK SC","fontSize":35,"fontWeight":"bold","color":"#ea1010"},"encoding":{"x":{"field":"i","type":"quantitative","scale":{"domain":[-0.7,378.55],"nice":false,"zero":false},"axis":null},"y":{"field":"v","type":"quantitative","scale":{"domain":[887,0],"nice":false,"zero":false},"axis":null},"text":{"field":"label"}}}
],
"resolve":{"scale":{"color":"independent"}}
}
